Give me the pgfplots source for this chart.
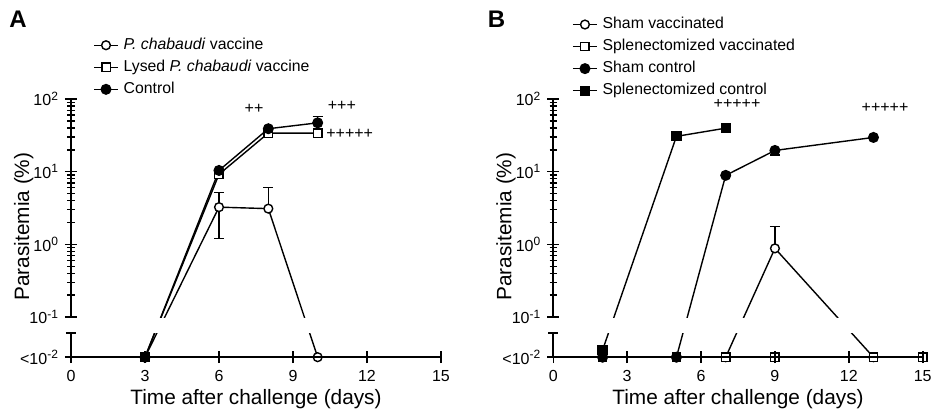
\documentclass[border=0pt]{standalone}
\usepackage{fontspec}
\setmainfont{Liberation Sans}
\usepackage{pgfplots}
\pgfplotsset{compat=1.18}

% Values below detection are drawn on the "<10^-2" line, i.e. at y = 0.028
% on the same log scale as the upper part of the broken axis.
\pgfplotsset{
  mybase/.style={
    scale only axis, xmin=0, xmax=15,
    axis line style={line width=0.9pt, black},
    xtick style={line width=0.8pt, black},
    ytick style={line width=0.7pt, black},
    major tick length=6pt, minor tick length=3.6pt,
    tick align=center,
    tick label style={font=\fontsize{8}{9}\selectfont},
    yticklabel style={xshift=0.5pt},
  },
  myupper/.style={mybase, height=109pt, ymin=0.1, ymax=100,
    axis x line=none, axis y line*=left, ytick pos=left,
    ytick={0.1,1,10,100},
    yminorticks=true,
    minor ytick={0.2,0.3,0.4,0.5,0.6,0.7,0.8,0.9,2,3,4,5,6,7,8,9,20,30,40,50,60,70,80,90},
    yticklabels={10\textsuperscript{-1},10\textsuperscript{0},10\textsuperscript{1},10\textsuperscript{2}},
    legend cell align=left,
    legend style={draw=none, fill=none, font=\fontsize{7.9}{9}\selectfont,
      row sep=3.8pt, nodes={inner sep=0pt}},
    legend image code/.code={
      \draw[mark repeat=2, mark phase=2, ##1] plot coordinates {(0pt,0pt) (6pt,0pt) (12pt,0pt)};
      \path (14.5pt,0pt);},
    every axis y label/.style={at={(rel axis cs:-0.128,0.415)}, rotate=90, anchor=center,
      font=\fontsize{10.4}{12}\selectfont},
  },
  mylower/.style={mybase, height=12.03pt, ymin=0.028, ymax=0.06,
    axis x line*=bottom, axis y line*=left, axis on top,
    xtick pos=bottom, ytick pos=left,
    clip mode=individual, yminorticks=false,
    ytick={0.028}, yticklabels={<10\textsuperscript{-2}},
    extra y ticks={0.06}, extra y tick labels={},
    extra y tick style={tick align=center, major tick length=5pt},
    xtick={0,3,6,9,12,15}, xticklabels={0,3,6,9,12,15},
    every axis x label/.style={at={(rel axis cs:0.5,0)}, anchor=base, yshift=-23.5pt,
      font=\fontsize{10.4}{12}\selectfont},
    xlabel={Time after challenge (days)},
  },
  ocirc/.style={black, line width=0.7pt, mark=*, mark size=2.2pt, mark options={fill=white, solid}},
  osq/.style={black, line width=0.7pt, mark=square*, mark size=2.1pt, mark options={fill=white, solid}},
  fcirc/.style={black, line width=0.7pt, mark=*, mark size=2.4pt, mark options={fill=black, solid}},
  fsq/.style={black, line width=0.7pt, mark=square*, mark size=2.2pt, mark options={fill=black, solid}},
}

\begin{document}
\begin{tikzpicture}
\useasboundingbox (0,0) rectangle (466pt,-206.5pt);

% ---------------- panel A ----------------
\node[font=\fontsize{12}{14}\bfseries] at (9pt,-9.75pt) {A};

\begin{axis}[ymode=log, myupper, width=185pt, at={(35.5pt,-158.5pt)}, anchor=south west,
  ylabel={Parasitemia (\%)},
  legend style={at={(rel axis cs:0.043,1.30)}, anchor=north west}]
  \addplot[ocirc,
    error bars/.cd, y dir=both, y explicit,
    error bar style={line width=0.7pt, black},
    error mark options={rotate=90, mark size=2.5pt, line width=0.7pt, black}]
    coordinates {(3,0.028) (6,3.25) += (0,1.95) -= (0,2.05)
                 (8,3.1) += (0,3.0) -= (0,0) (10,0.028)};
  \addlegendentry{\textit{P. chabaudi} vaccine}
  \addplot[osq] coordinates {(3,0.028) (6,9.2) (8,34) (10,34)};
  \addlegendentry{Lysed \textit{P. chabaudi} vaccine}
  \addplot[fcirc,
    error bars/.cd, y dir=both, y explicit,
    error bar style={line width=0.7pt, black},
    error mark options={rotate=90, mark size=2.5pt, line width=0.7pt, black}]
    coordinates {(3,0.028) (6,10.4) (8,39) (10,47) += (0,11) -= (0,0)};
  \addlegendentry{Control}
  \node[font=\fontsize{8}{9}\selectfont] at (axis cs:7.42,72) {++};
  \node[font=\fontsize{8}{9}\selectfont] at (axis cs:10.98,81) {+++};
  \node[font=\fontsize{8}{9}\selectfont] at (axis cs:11.3,33.6) {+++++};
\end{axis}

\begin{axis}[ymode=log, mylower, width=185pt, at={(35.5pt,-178.59pt)}, anchor=south west]
  \addplot[ocirc, no marks] coordinates {(3,0.028) (6,3.25) (8,3.1) (10,0.028)};
  \addplot[osq, no marks] coordinates {(3,0.028) (6,9.2) (8,34) (10,34)};
  \addplot[fcirc, no marks] coordinates {(3,0.028) (6,10.4) (8,39) (10,47)};
  \addplot[ocirc, only marks] coordinates {(3,0.028) (10,0.028)};
  \addplot[osq, only marks] coordinates {(3,0.028)};
  \addplot[fcirc, only marks] coordinates {(3,0.028)};
\end{axis}

% ---------------- panel B ----------------
\node[font=\fontsize{12}{14}\bfseries] at (248.25pt,-9.75pt) {B};

\begin{axis}[ymode=log, myupper, width=184.7pt, at={(276.65pt,-158.5pt)}, anchor=south west,
  ylabel={Parasitemia (\%)},
  legend style={at={(rel axis cs:0.034,1.395)}, anchor=north west}]
  \addplot[ocirc,
    error bars/.cd, y dir=both, y explicit,
    error bar style={line width=0.7pt, black},
    error mark options={rotate=90, mark size=2.5pt, line width=0.7pt, black}]
    coordinates {(2,0.028) (5,0.028) (7,0.028) (9,0.88) += (0,0.89) -= (0,0)
                 (13,0.028) (15,0.028)};
  \addlegendentry{Sham vaccinated}
  \addplot[osq] coordinates {(2,0.028) (5,0.028) (7,0.028) (9,0.028) (13,0.028) (15,0.028)};
  \addlegendentry{Splenectomized vaccinated}
  \addplot[fcirc,
    error bars/.cd, y dir=both, y explicit,
    error bar style={line width=0.7pt, black},
    error mark options={rotate=90, mark size=2.5pt, line width=0.7pt, black}]
    coordinates {(2,0.028) (5,0.028) (7,8.9) (9,19.6) += (0,0) -= (0,2.6) (13,29.6)};
  \addlegendentry{Sham control}
  \addplot[fsq] coordinates {(2,0.035) (5,30.6) (7,39.7)};
  \addlegendentry{Splenectomized control}
  \node[font=\fontsize{8}{9}\selectfont] at (axis cs:7.46,87) {+++++};
  \node[font=\fontsize{8}{9}\selectfont] at (axis cs:13.47,76) {+++++};
\end{axis}

\begin{axis}[ymode=log, mylower, width=184.7pt, at={(276.65pt,-178.59pt)}, anchor=south west]
  \addplot[ocirc, no marks] coordinates {(2,0.028) (5,0.028) (7,0.028) (9,0.88) (13,0.028) (15,0.028)};
  \addplot[osq, no marks] coordinates {(2,0.028) (15,0.028)};
  \addplot[fcirc, no marks] coordinates {(2,0.028) (5,0.028) (7,8.9) (9,19.6) (13,29.6)};
  \addplot[fsq, no marks] coordinates {(2,0.035) (5,30.6) (7,39.7)};
  \addplot[ocirc, only marks] coordinates {(2,0.028) (5,0.028) (7,0.028) (13,0.028) (15,0.028)};
  \addplot[osq, only marks] coordinates {(2,0.028) (5,0.028) (7,0.028) (9,0.028) (13,0.028) (15,0.028)};
  \addplot[fcirc, only marks] coordinates {(2,0.028) (5,0.028)};
  \addplot[fsq, only marks] coordinates {(2,0.035)};
\end{axis}
\end{tikzpicture}
\end{document}
